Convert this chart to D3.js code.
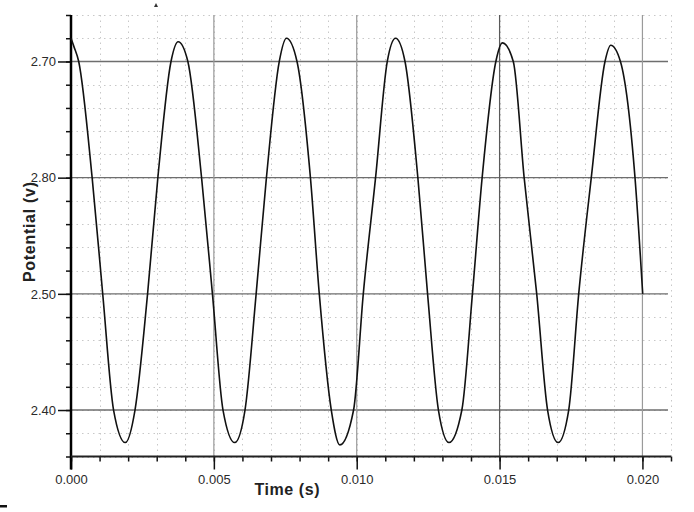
<!DOCTYPE html>
<html>
<head>
<meta charset="utf-8">
<script src="https://cdn.jsdelivr.net/npm/d3@7"></script>
<style>
  html, body { margin: 0; padding: 0; background: #fff; }
  svg { display: block; }
</style>
</head>
<body>
<svg id="chart" width="694" height="512"></svg>
<script>
// ---- data ----
const timeValues = [0.00000,0.00010,0.00027,0.00074,0.00111,0.00149,0.00190,0.00224,0.00268,0.00304,0.00350,0.00375,0.00409,0.00457,0.00495,0.00532,0.00573,0.00609,0.00648,0.00684,0.00729,0.00754,0.00791,0.00838,0.00869,0.00911,0.00941,0.00989,0.01023,0.01066,0.01107,0.01136,0.01169,0.01214,0.01248,0.01286,0.01323,0.01368,0.01405,0.01439,0.01487,0.01510,0.01548,0.01586,0.01630,0.01668,0.01705,0.01742,0.01777,0.01821,0.01869,0.01889,0.01923,0.01974,0.02001];
const potentialValues = [2.720,2.713,2.700,2.600,2.500,2.400,2.372,2.400,2.500,2.600,2.700,2.717,2.700,2.600,2.500,2.400,2.372,2.400,2.500,2.600,2.700,2.720,2.700,2.600,2.500,2.400,2.370,2.400,2.500,2.600,2.700,2.720,2.700,2.600,2.500,2.400,2.372,2.400,2.500,2.600,2.700,2.716,2.700,2.600,2.500,2.400,2.372,2.400,2.500,2.600,2.700,2.714,2.700,2.600,2.500];
const xMajorTicks = [0, 0.005, 0.010, 0.015, 0.020];
const xTickLabels = ["0.000", "0.005", "0.010", "0.015", "0.020"];
const yMajorTicks = [2.40, 2.50, 2.60, 2.70];
const yTickLabels = ["2.40", "2.50", "2.80", "2.70"];
const xMinorStep = 0.001;
const yMinorStep = 0.02;
const xDomain = [0, 0.021];
const yDomain = [2.36, 2.74];
const xTitle = "Time (s)";
const yTitle = "Potential (v)";

// ---- layout ----
const svg = d3.select("#chart");
const mLeft = 71, mRight = 671, mTop = 15, mBottom = 456.5;
const x = d3.scaleLinear().domain(xDomain).range([mLeft, mRight]);
const y = d3.scaleLinear().domain(yDomain).range([mBottom, mTop]);

const xMinor = d3.range(0, 22).map(i => +(i * xMinorStep).toFixed(4));
const yMinor = d3.range(0, 20).map(i => +(yDomain[0] + i * yMinorStep).toFixed(3));

const gridRight = 668;

// minor dotted grid
svg.append("g").selectAll("line").data(yMinor).join("line")
  .attr("x1", mLeft).attr("x2", gridRight)
  .attr("y1", d => Math.round(y(d)) + 0.5).attr("y2", d => Math.round(y(d)) + 0.5)
  .attr("stroke", "#c8c8c8").attr("stroke-width", 1).attr("stroke-dasharray", "1.5,4");
svg.append("g").selectAll("line").data(xMinor).join("line")
  .attr("y1", mTop).attr("y2", mBottom)
  .attr("x1", d => Math.round(x(d)) + 0.5).attr("x2", d => Math.round(x(d)) + 0.5)
  .attr("stroke", "#c8c8c8").attr("stroke-width", 1).attr("stroke-dasharray", "1.5,4");

// major grid
svg.append("g").selectAll("line").data(yMajorTicks).join("line")
  .attr("x1", mLeft).attr("x2", gridRight)
  .attr("y1", d => y(d)).attr("y2", d => y(d))
  .attr("stroke", "#6e6e6e").attr("stroke-width", 1.4);
svg.append("g").selectAll("line").data(xMajorTicks.slice(1)).join("line")
  .attr("y1", mTop).attr("y2", mBottom)
  .attr("x1", d => x(d)).attr("x2", d => x(d))
  .attr("stroke", (d, i) => i === 2 ? "#5a5a5a" : "#9a9a9a").attr("stroke-width", 1.2);

// axes
const fontFam = "'Liberation Sans', Arial, sans-serif";
const yAxisMinor = d3.axisLeft(y).tickValues(yMinor).tickSize(5).tickFormat("");
const yAxisMajor = d3.axisLeft(y).tickValues(yMajorTicks).tickSize(13).tickPadding(2)
  .tickFormat(d => yTickLabels[yMajorTicks.indexOf(d)]);
const xAxisMinor = d3.axisBottom(x).tickValues(xMinor).tickSize(5).tickFormat("");
const xAxisMajor = d3.axisBottom(x).tickValues(xMajorTicks).tickSize(13).tickPadding(5)
  .tickFormat(d => xTickLabels[xMajorTicks.indexOf(d)]);

function styleAxis(g) {
  g.select(".domain").remove();
  g.selectAll(".tick line").attr("stroke", "#111").attr("stroke-width", 1.5);
  g.selectAll(".tick text").attr("fill", "#2a2a2a").style("font-family", fontFam).style("font-size", "13px");
}
svg.append("g").attr("transform", `translate(${mLeft},0)`).call(yAxisMinor).call(styleAxis);
svg.append("g").attr("transform", `translate(${mLeft},0)`).call(yAxisMajor).call(styleAxis);
svg.append("g").attr("transform", `translate(0,${mBottom})`).call(xAxisMinor).call(styleAxis);
svg.append("g").attr("transform", `translate(0,${mBottom})`).call(xAxisMajor).call(styleAxis);

// axis lines
svg.append("line").attr("x1", mLeft).attr("x2", mLeft).attr("y1", mTop).attr("y2", mBottom + 13)
  .attr("stroke", "#000").attr("stroke-width", 2.5);
svg.append("line").attr("x1", mLeft).attr("x2", mRight).attr("y1", mBottom).attr("y2", mBottom)
  .attr("stroke", "#222").attr("stroke-width", 2);

// data line
const pts = timeValues.map((t, i) => [t, potentialValues[i]]);
const line = d3.line().x(d => x(d[0])).y(d => y(d[1])).curve(d3.curveMonotoneX);
svg.append("path").datum(pts).attr("d", line)
  .attr("fill", "none").attr("stroke", "#111").attr("stroke-width", 1.6);

// titles
svg.append("text").attr("x", 287).attr("y", 495).attr("text-anchor", "middle")
  .style("font-family", fontFam).style("font-size", "16px").style("font-weight", "bold")
  .attr("fill", "#222").attr("textLength", 65).text(xTitle);
svg.append("text").attr("transform", "translate(35,232) rotate(-90)").attr("text-anchor", "middle")
  .style("font-family", fontFam).style("font-size", "16px").style("font-weight", "bold")
  .attr("fill", "#222").attr("textLength", 100).text(yTitle);

// small scan marks
svg.append("rect").attr("x", 0).attr("y", 505).attr("width", 7).attr("height", 2.5).attr("fill", "#111");
svg.append("path").attr("d", "M154,7 L156,3 L158,7 Z").attr("fill", "#333");
</script>
</body>
</html>
